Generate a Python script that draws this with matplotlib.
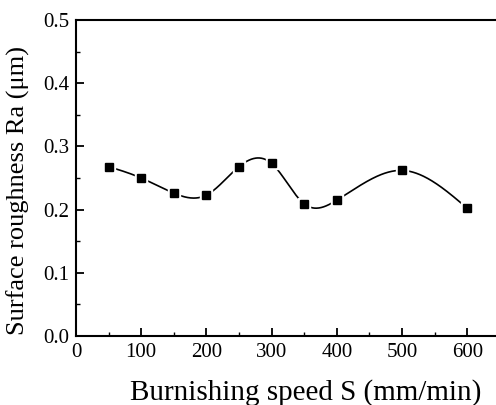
import numpy as np
import matplotlib
matplotlib.use("Agg")
import matplotlib.pyplot as plt
from matplotlib.ticker import MultipleLocator

speed = [50, 100, 150, 200, 250, 300, 350, 400, 500, 600]
ra = [0.268, 0.250, 0.226, 0.223, 0.268, 0.273, 0.209, 0.215, 0.262, 0.202]

def natural_spline(x, y, xs):
    x = np.asarray(x, float); y = np.asarray(y, float)
    n = len(x)
    h = np.diff(x)
    A = np.zeros((n, n)); b = np.zeros(n)
    A[0, 0] = 1; A[-1, -1] = 1
    for i in range(1, n - 1):
        A[i, i - 1] = h[i - 1]
        A[i, i] = 2 * (h[i - 1] + h[i])
        A[i, i + 1] = h[i]
        b[i] = 3 * ((y[i + 1] - y[i]) / h[i] - (y[i] - y[i - 1]) / h[i - 1])
    c = np.linalg.solve(A, b)
    out = np.empty_like(xs)
    for k, xv in enumerate(xs):
        i = min(max(np.searchsorted(x, xv) - 1, 0), n - 2)
        bi = (y[i + 1] - y[i]) / h[i] - h[i] * (2 * c[i] + c[i + 1]) / 3
        di = (c[i + 1] - c[i]) / (3 * h[i])
        t = xv - x[i]
        out[k] = y[i] + bi * t + c[i] * t ** 2 + di * t ** 3
    return out

plt.rcParams['font.family'] = ['Liberation Serif', 'DejaVu Serif']
fig = plt.figure(figsize=(4.96, 4.05), dpi=100)
ax = fig.add_axes([76 / 496, 69 / 405, 420 / 496, 316 / 405])

xs = np.linspace(speed[0], speed[-1], 600)
ax.plot(xs, natural_spline(speed, ra, xs), color='black', lw=1.2, zorder=2)
ax.plot(speed, ra, ls='none', marker='s', ms=9, mfc='white', mec='white', zorder=3)
ax.plot(speed, ra, ls='none', marker='s', ms=5.5, mfc='black', mec='black', zorder=4)

ax.set_xlim(0, 644)
ax.set_ylim(0, 0.5)
ax.xaxis.set_major_locator(MultipleLocator(100))
ax.xaxis.set_minor_locator(MultipleLocator(50))
ax.yaxis.set_major_locator(MultipleLocator(0.1))
ax.yaxis.set_minor_locator(MultipleLocator(0.05))
ax.yaxis.set_major_formatter(matplotlib.ticker.FormatStrFormatter('%.1f'))
ax.tick_params(which='major', direction='in', length=6, width=1.3, labelsize=15, pad=5)
ax.tick_params(which='minor', direction='in', length=3, width=1.0)
ax.tick_params(top=False, right=False, which='both')
for s in ['left', 'bottom', 'top']:
    ax.spines[s].set_linewidth(1.5)
ax.spines['right'].set_visible(False)

ax.set_xlabel('Burnishing speed S (mm/min)', fontsize=21, va='center', ha='center')
ax.set_ylabel('Surface roughness Ra (\u03bcm)', fontsize=19, va='center', ha='center')
ax.xaxis.set_label_coords(0.548, -0.18)
ax.yaxis.set_label_coords(-0.138, 0.462)

fig.savefig('out.png', dpi=100)
